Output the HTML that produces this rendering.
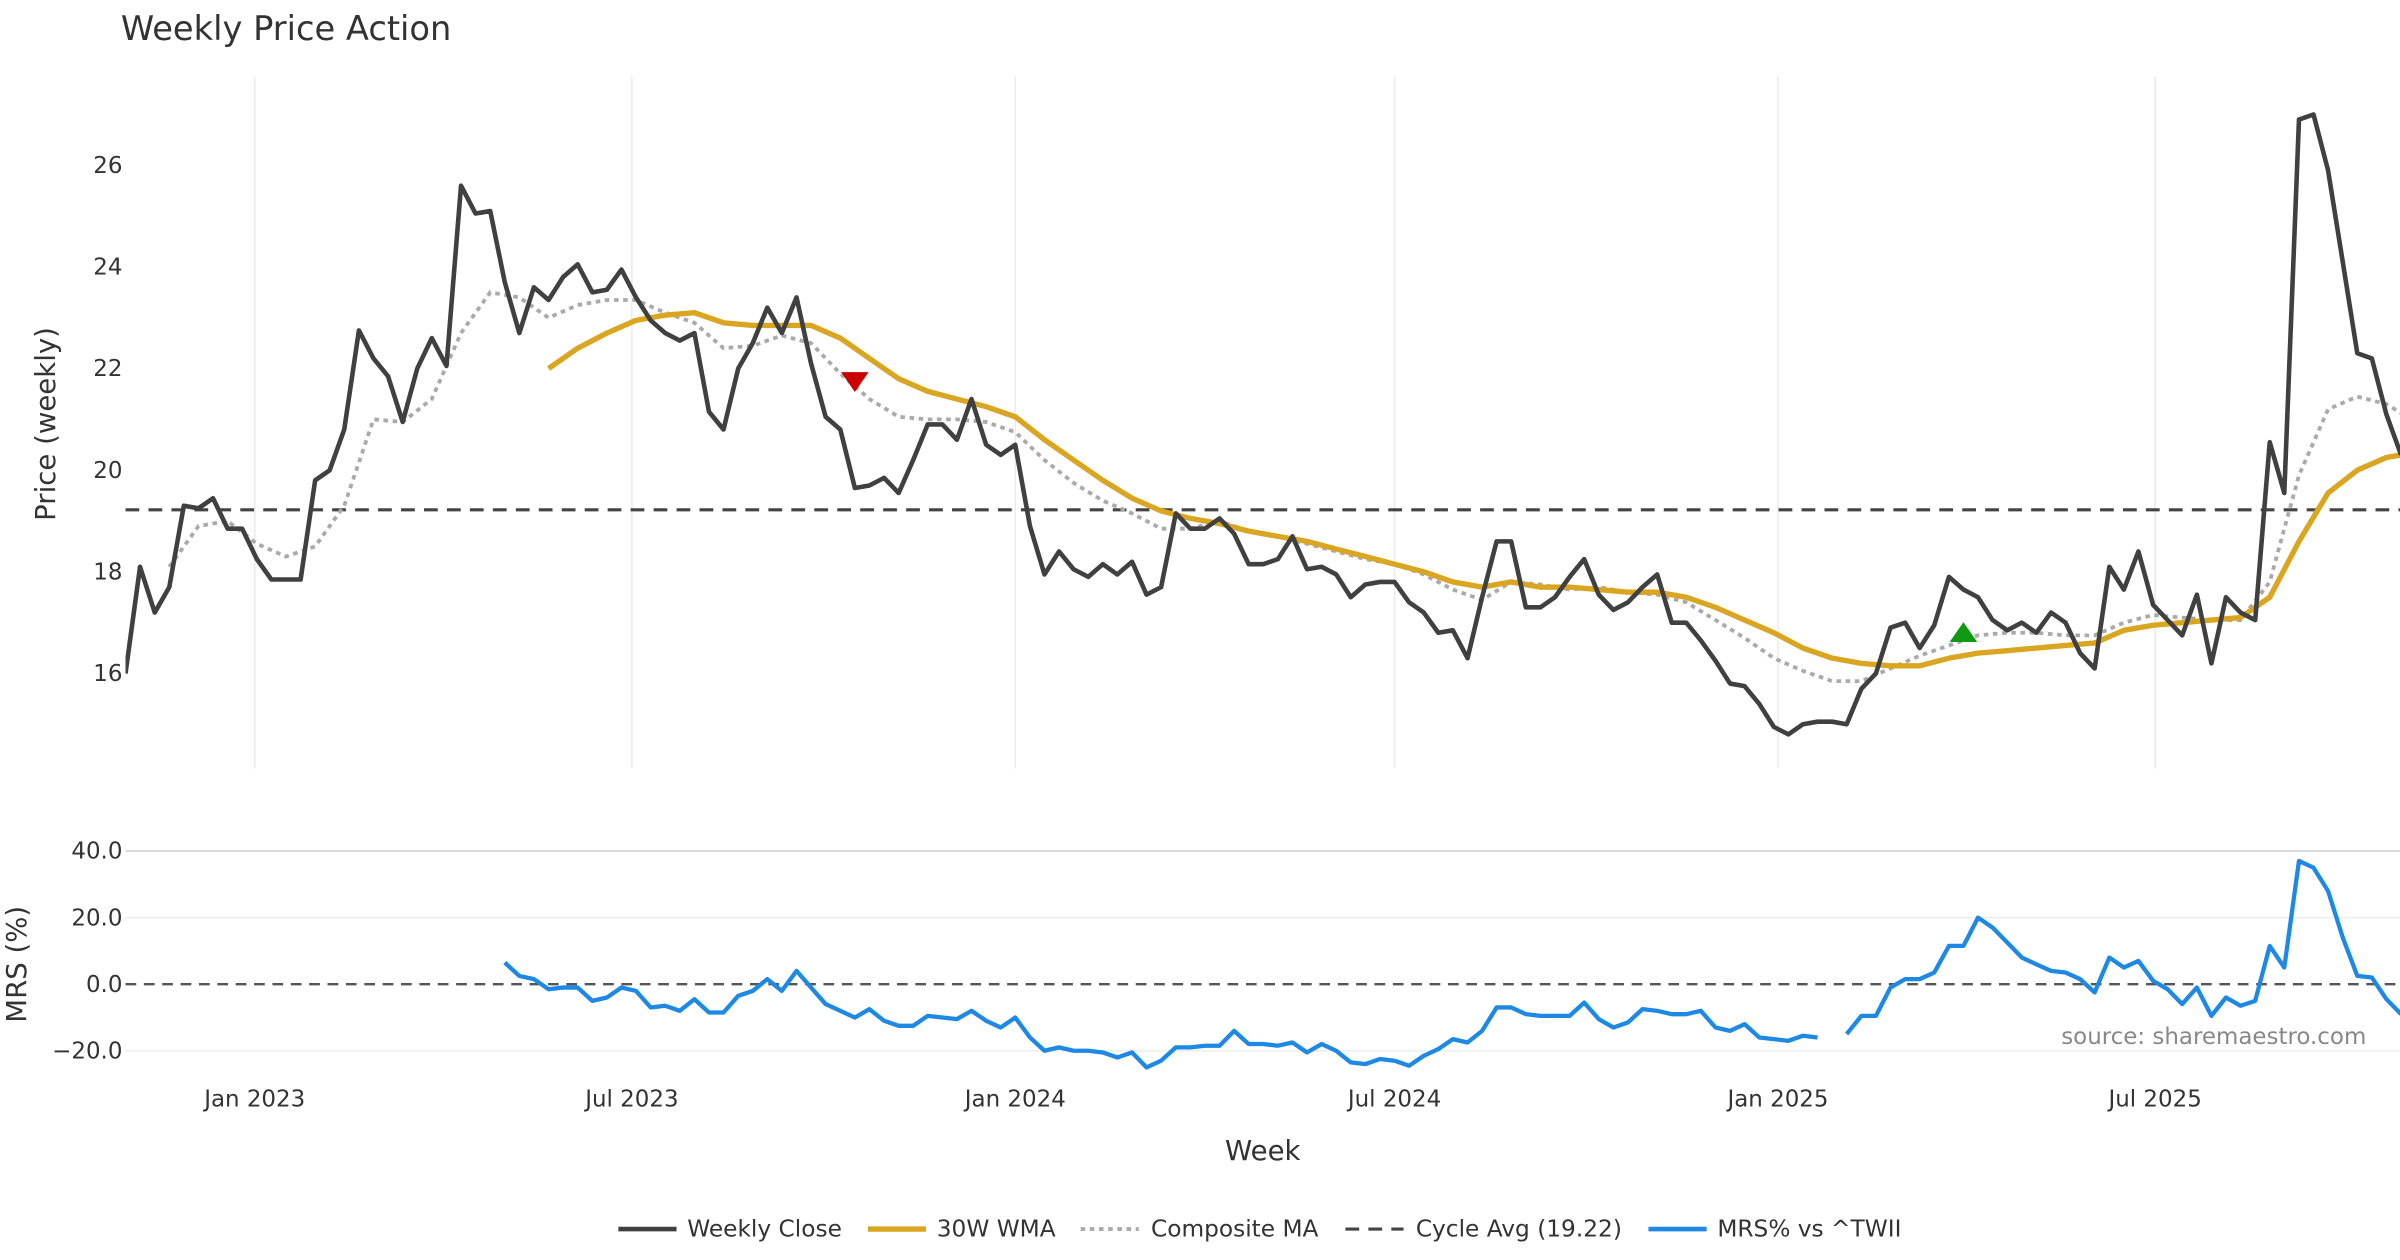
<!DOCTYPE html>
<html><head><meta charset="utf-8"><style>
html,body{margin:0;padding:0;background:#fff;}
svg{display:block;font-family:"DejaVu Sans","Liberation Sans",sans-serif;}
</style></head><body>
<svg id="chart" width="2400" height="1260" viewBox="0 0 1568 823.2" xmlns="http://www.w3.org/2000/svg">
<defs><clipPath id="plotclip"><rect x="82" y="40" width="1486" height="680"/></clipPath></defs>
<text x="79" y="26" font-size="22" fill="#333">Weekly Price Action</text>
<text transform="translate(36,277) rotate(-90)" text-anchor="middle" font-size="18" fill="#333">Price (weekly)</text>
<text transform="translate(17,630) rotate(-90)" text-anchor="middle" font-size="18" fill="#333">MRS (%)</text>
<text x="825" y="758" text-anchor="middle" font-size="18" fill="#333">Week</text>
<text x="1546" y="682" text-anchor="end" font-size="15" fill="#888">source: sharemaestro.com</text>
<g id="grid"></g><g id="marks" clip-path="url(#plotclip)"></g>
<g font-size="15.2" fill="#333">
<line x1="404" y1="803" x2="442" y2="803" stroke="#404040" stroke-width="3"/><text x="449" y="808">Weekly Close</text>
<line x1="567" y1="803" x2="605" y2="803" stroke="#DAA520" stroke-width="3.5"/><text x="612" y="808">30W WMA</text>
<line x1="706" y1="803" x2="744" y2="803" stroke="#aaa" stroke-width="2.5" stroke-dasharray="3,3"/><text x="752" y="808">Composite MA</text>
<line x1="879" y1="803" x2="917" y2="803" stroke="#444" stroke-width="2" stroke-dasharray="9,6"/><text x="925" y="808">Cycle Avg (19.22)</text>
<line x1="1077" y1="803" x2="1115" y2="803" stroke="#1e88e5" stroke-width="3"/><text x="1122" y="808">MRS% vs ^TWII</text>
</g>
</svg>
<script>
const closeVals=[16.0,18.1,17.2,17.7,19.3,19.25,19.45,18.85,18.85,18.25,17.85,17.85,17.85,19.8,20.0,20.8,22.75,22.2,21.85,20.95,22.0,22.6,22.05,25.6,25.05,25.1,23.7,22.7,23.6,23.35,23.8,24.05,23.5,23.55,23.95,23.4,22.95,22.7,22.55,22.7,21.15,20.8,22.0,22.5,23.2,22.7,23.4,22.1,21.05,20.8,19.65,19.7,19.85,19.55,20.2,20.9,20.9,20.6,21.4,20.5,20.3,20.5,18.9,17.95,18.4,18.05,17.9,18.15,17.95,18.2,17.55,17.7,19.15,18.85,18.85,19.05,18.75,18.15,18.15,18.25,18.7,18.05,18.1,17.95,17.5,17.75,17.8,17.8,17.4,17.2,16.8,16.85,16.3,17.5,18.6,18.6,17.3,17.3,17.5,17.9,18.25,17.55,17.25,17.4,17.7,17.95,17.0,17.0,16.65,16.25,15.8,15.75,15.4,14.95,14.8,15.0,15.05,15.05,15.0,15.7,16.0,16.9,17.0,16.5,16.95,17.9,17.65,17.5,17.05,16.85,17.0,16.8,17.2,17.0,16.4,16.1,18.1,17.65,18.4,17.35,17.05,16.75,17.55,16.2,17.5,17.2,17.05,20.55,19.55,26.9,27.0,25.9,24.1,22.3,22.2,21.1,20.3];
const wmaStart=29;
const wmaVals=[22.0,22.4,22.7,22.95,23.05,23.1,22.9,22.85,22.85,22.85,22.6,22.2,21.8,21.55,21.4,21.25,21.05,20.6,20.2,19.8,19.45,19.2,19.05,18.95,18.8,18.7,18.6,18.45,18.3,18.15,18.0,17.8,17.7,17.8,17.7,17.7,17.65,17.6,17.6,17.5,17.3,17.05,16.8,16.5,16.3,16.2,16.15,16.15,16.3,16.4,16.45,16.5,16.55,16.6,16.85,16.95,17.0,17.05,17.1,17.5,18.6,19.55,20.0,20.25,20.35];
const compStart=3;
const compVals=[18.1,18.9,19.0,18.55,18.3,18.5,19.3,21.0,20.95,21.4,22.7,23.5,23.4,23.0,23.25,23.35,23.35,23.1,22.9,22.4,22.45,22.65,22.5,21.9,21.4,21.05,21.0,21.0,20.95,20.75,20.2,19.75,19.4,19.15,18.85,18.85,19.0,18.8,18.7,18.55,18.4,18.25,18.15,17.95,17.65,17.45,17.8,17.75,17.65,17.7,17.6,17.55,17.4,17.05,16.7,16.3,16.05,15.85,15.85,16.1,16.35,16.55,16.75,16.8,16.8,16.75,16.75,17.0,17.15,17.1,17.05,17.05,17.8,19.9,21.2,21.45,21.3,20.95];
const mrsStart=26;
const mrsVals=[6.5,2.5,1.5,-1.5,-1.0,-1.0,-5.0,-4.0,-1.0,-2.0,-7.0,-6.5,-8.0,-4.5,-8.5,-8.5,-3.5,-2.0,1.5,-2.0,4.0,-1.0,-6.0,-8.0,-10.0,-7.5,-11.0,-12.5,-12.5,-9.5,-10.0,-10.5,-8.0,-11.0,-13.0,-10.0,-16.0,-20.0,-19.0,-20.0,-20.0,-20.5,-22.0,-20.5,-25.0,-23.0,-19.0,-19.0,-18.5,-18.5,-14.0,-18.0,-18.0,-18.5,-17.5,-20.5,-18.0,-20.0,-23.5,-24.0,-22.5,-23.0,-24.5,-21.5,-19.5,-16.5,-17.5,-14.0,-7.0,-7.0,-9.0,-9.5,-9.5,-9.5,-5.5,-10.5,-13.0,-11.5,-7.5,-8.0,-9.0,-9.0,-8.0,-13.0,-14.0,-12.0,-16.0,-16.5,-17.0,-15.5,-16.0,null,-15.0,-9.5,-9.5,-1.0,1.5,1.5,3.5,11.5,11.5,20.0,17.0,12.5,8.0,6.0,4.0,3.5,1.5,-2.5,8.0,5.0,7.0,1.0,-1.5,-6.0,-1.0,-9.5,-4.0,-6.5,-5.0,11.5,5.0,37.0,35.0,28.0,14.0,2.5,2.0,-4.5,-9.0];
const cycleAvg=19.22;
const sellSignal={i:50,v:21.75};
const buySignal={i:126,v:16.8};
const priceTicks=[16,18,20,22,24,26];
const mrsTicks=[40,20,0,-20];
const mrsTickLabels=["40.0","20.0","0.0","\u221220.0"];
const dateTicks=["2023-01-01","2023-07-01","2024-01-01","2024-07-01","2025-01-01","2025-07-01"];
const dateTickLabels=["Jan 2023","Jul 2023","Jan 2024","Jul 2024","Jan 2025","Jul 2025"];
const startDate="2022-10-31";

const NS="http://www.w3.org/2000/svg";
const X0=82, WEEK=9.53, DAY=9.53/7;
const xi=i=>X0+i*WEEK;
const xd=d=>X0+(new Date(d)-new Date(startDate))/86400000*DAY;
const yp=v=>108+(26-v)*33.2;
const ym=v=>643-v*2.175;
const grid=document.getElementById('grid'), marks=document.getElementById('marks');
function mk(tag,attrs,parent){const e=document.createElementNS(NS,tag);for(const k in attrs)e.setAttribute(k,attrs[k]);parent.appendChild(e);return e;}
function path(pts){let d='',pen=false;pts.forEach(p=>{if(p[1]==null||isNaN(p[1])){pen=false;return;}d+=(pen?'L':'M')+p[0].toFixed(1)+','+p[1].toFixed(1);pen=true;});return d;}

dateTicks.forEach((d,k)=>{
  const x=xd(d);
  const g=mk('line',{x1:x,y1:50,x2:x,y2:502,stroke:'#ebebeb','stroke-width':1},grid);
  
  
  const t=mk('text',{x:x,y:723,'text-anchor':'middle','font-size':15,fill:'#333'},grid);
  t.textContent=dateTickLabels[k];
  
  
});
priceTicks.forEach(v=>{
  const t=mk('text',{x:80,y:yp(v)+5,'text-anchor':'end','font-size':15,fill:'#333'},grid);
  t.textContent=v;
  
  
});
mrsTicks.forEach((v,k)=>{
  if(v!==0){const l=mk('line',{x1:82,y1:ym(v),x2:1568,y2:ym(v),stroke:v===40?'#ccc':'#eee','stroke-width':1},grid);
  
  }
  const t=mk('text',{x:80,y:ym(v)+5,'text-anchor':'end','font-size':15,fill:'#333'},grid);
  t.textContent=mrsTickLabels[k];
  
  
});
let e;
e=mk('line',{x1:82,y1:yp(cycleAvg),x2:1568,y2:yp(cycleAvg),stroke:'#444','stroke-width':2,'stroke-dasharray':'9,6'},marks);


e=mk('line',{x1:82,y1:ym(0),x2:1568,y2:ym(0),stroke:'#555','stroke-width':1.5,'stroke-dasharray':'7,5'},marks);


e=mk('path',{d:path(compVals.map((v,k)=>[xi(compStart+2*k),yp(v)])),fill:'none',stroke:'#aaa','stroke-width':2.5,'stroke-dasharray':'3,3'},marks);


e=mk('path',{d:path(wmaVals.map((v,k)=>[xi(wmaStart+2*k),yp(v)])),fill:'none',stroke:'#DAA520','stroke-width':3.5,'stroke-linejoin':'round'},marks);


e=mk('path',{d:path(closeVals.map((v,k)=>[xi(k),yp(v)])),fill:'none',stroke:'#404040','stroke-width':3,'stroke-linejoin':'round'},marks);


e=mk('path',{d:path(mrsVals.map((v,k)=>[xi(mrsStart+k),v==null?null:ym(v)])),fill:'none',stroke:'#1e88e5','stroke-width':2.8,'stroke-linejoin':'round'},marks);


let sx=xi(sellSignal.i), sy=yp(sellSignal.v);
e=mk('polygon',{points:`${sx-9},${sy-6} ${sx+9},${sy-6} ${sx},${sy+7}`,fill:'#cc0000'},marks);


let bx=xi(buySignal.i), by=yp(buySignal.v);
e=mk('polygon',{points:`${bx-9},${by+6} ${bx+9},${by+6} ${bx},${by-7}`,fill:'#119911'},marks);


</script>
</body></html>
